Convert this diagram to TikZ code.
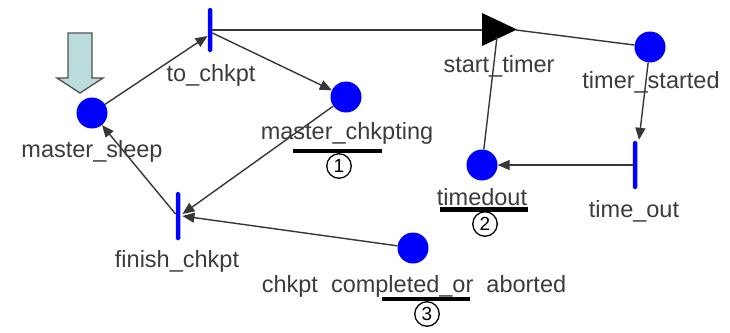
\documentclass[tikz,border=0pt]{standalone}
\usepackage{fontspec}
\setmainfont{Liberation Sans}
\usetikzlibrary{arrows.meta,calc}
\definecolor{pblue}{RGB}{0,0,255}
\definecolor{txt}{RGB}{60,60,60}
\definecolor{ln}{RGB}{55,55,55}
\definecolor{arrowfill}{RGB}{186,221,219}
\definecolor{arrowline}{RGB}{80,80,80}
\begin{document}
\begin{tikzpicture}[x=1pt,y=-1pt,
  place/.style={circle,fill=pblue,inner sep=0pt,minimum size=31pt},
  trans/.style={rectangle,fill=pblue,inner sep=0pt,minimum width=4.5pt,rounded corners=1.5pt},
  lbl/.style={text=txt,anchor=base,inner sep=0pt,font=\fontsize{23.5}{28}\selectfont},
  arc/.style={draw=ln,line width=1.4pt},
  arr/.style={arc,-{Triangle[length=12pt,width=10pt]}},
  ubar/.style={line width=4.5pt,black},
  num/.style={circle,draw=black,line width=1.3pt,minimum size=24.5pt,inner sep=0pt,font=\fontsize{19}{21}\selectfont}]

\useasboundingbox[fill=white] (0,0) rectangle (730,332);

% entry arrow
\draw[fill=arrowfill,draw=arrowline,line width=1.3pt,line join=miter]
  (68,33) -- (92,33) -- (92,78) -- (103,78) -- (80,93) -- (57,78) -- (68,78) -- cycle;

% places
\node[place] (ms) at (92,113) {};
\node[place] (mc) at (346,97) {};
\node[place] (ts) at (650,47) {};
\node[place] (td) at (482,165) {};
\node[place] (cc) at (413,248) {};

% transitions
\node[trans,minimum height=44pt] (tc) at (210,30) {};
\node[trans,minimum height=48pt] (fc) at (178,216) {};
\node[trans,minimum height=48pt] (to) at (635,165) {};

% start_timer triangle
\fill[black] (482,13) -- (517,29.5) -- (482,46) -- cycle;
\coordinate (stW) at (482,30);
\coordinate (stE) at (516,30);
\coordinate (stS) at (497,37);

% connectors
\draw[arr] (ms) -- ($(tc.west)+(0,6)$);
\draw[arr] ($(tc.east)+(0,3)$) -- (mc);
\draw[arc] (tc.east |- stW) -- (stW);
\draw[arc] (stE) -- (ts);
\draw[arr] (ts) -- ($(to.north)+(4,-1)$);
\draw[arr] (to.west) -- (td);
\draw[arc] (td) -- (stS);
\draw[arr] (mc) -- ($(fc.east)+(2,-2)$);
\draw[arr] (cc) -- ($(fc.east)+(2,0)$);
\draw[arr] ($(fc.west)+(0,-2)$) -- (ms);

% labels
\node[lbl] (l_tc) at (211,81) {to\_chkpt};
\node[lbl] (l_ms) at (92,157) {master\_sleep};
\node[lbl] (l_mc) at (347,139) {master\_chkpting};
\node[lbl] (l_st) at (499,72) {start\_timer};
\node[lbl] (l_ts) at (651,88) {timer\_started};
\node[lbl] (l_to) at (634,217) {time\_out};
\node[lbl] (l_td) at (482,205) {timedout};
\node[lbl] (l_fc) at (177,267) {finish\_chkpt};
\node[lbl] (l_cc) at (414,292) {chkpt\ \ completed\_or\ \ aborted};

% underline bars and numbers
\draw[ubar] (293,151) -- (382,151);
\node[num] (n1) at (339,166) {1};
\draw[ubar] (440,209.5) -- (528,209.5);
\node[num] (n2) at (485,224) {2};
\draw[ubar] (382,299) -- (470,299);
\node[num] (n3) at (427,314) {3};
\end{tikzpicture}
\end{document}
